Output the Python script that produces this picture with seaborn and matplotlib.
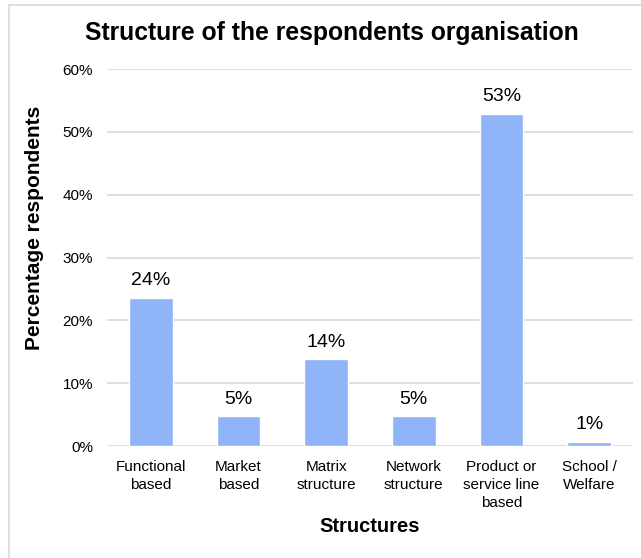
import matplotlib
matplotlib.use("Agg")
import matplotlib.pyplot as plt
import seaborn as sns
import pandas as pd
from matplotlib.lines import Line2D

structures = [
    "Functional\nbased",
    "Market\nbased",
    "Matrix\nstructure",
    "Network\nstructure",
    "Product or\nservice line\nbased",
    "School /\nWelfare",
]
percent_respondents = [23.6, 4.7, 13.8, 4.7, 52.9, 0.7]
y_ticks = [0, 10, 20, 30, 40, 50, 60]

sns.set_style("white")
plt.rcParams["font.family"] = ["Liberation Sans", "DejaVu Sans"]
plt.rcParams["text.color"] = "black"
plt.rcParams["axes.labelcolor"] = "black"
plt.rcParams["xtick.color"] = "black"
plt.rcParams["ytick.color"] = "black"

df = pd.DataFrame({"Structure": structures, "Percent": percent_respondents})

fig = plt.figure(figsize=(6.41, 5.58), dpi=100)
ax = fig.add_axes([0.167, 0.2007, 0.8205, 0.6756])

bar_color = "#8FB4F7"
sns.barplot(data=df, x="Structure", y="Percent", color=bar_color,
            saturation=1, width=0.5, ax=ax, zorder=3)

ax.set_ylim(0, 60)
ax.set_yticks(y_ticks)
ax.set_yticklabels([f"{v}%" for v in y_ticks], fontsize=11)
ax.yaxis.grid(True, color="#D9D9D9", linewidth=1.2, zorder=0)
ax.set_axisbelow(True)
for s in ax.spines.values():
    s.set_visible(False)
ax.tick_params(axis="both", length=0)
ax.tick_params(axis="y", pad=10)
ax.tick_params(axis="x", pad=10)
for lbl in ax.get_xticklabels():
    lbl.set_fontsize(11)
    lbl.set_linespacing(1.35)

# value labels above each bar
for i, v in enumerate(percent_respondents):
    ax.annotate(f"{round(v)}%", xy=(i, v), xytext=(0, 6),
                textcoords="offset points", ha="center", va="bottom",
                fontsize=14, color="black")

ax.set_xlabel("Structures", fontsize=14.5, fontweight="bold", labelpad=5)
ax.set_ylabel("Percentage respondents", fontsize=15, fontweight="bold")
ax.yaxis.set_label_coords(-0.12, 0.578)
fig.text(0.517, 0.94, "Structure of the respondents organisation",
         ha="center", va="center", fontsize=17.8, fontweight="bold")

# light frame around the chart area
fig.add_artist(Line2D([9 / 641, 9 / 641], [1 - 5 / 558, 0], transform=fig.transFigure,
                      color="#D9D9D9", linewidth=1.2))
fig.add_artist(Line2D([9 / 641, 1], [1 - 5 / 558, 1 - 5 / 558], transform=fig.transFigure,
                      color="#D9D9D9", linewidth=1.2))

fig.savefig("out.png", dpi=100)
